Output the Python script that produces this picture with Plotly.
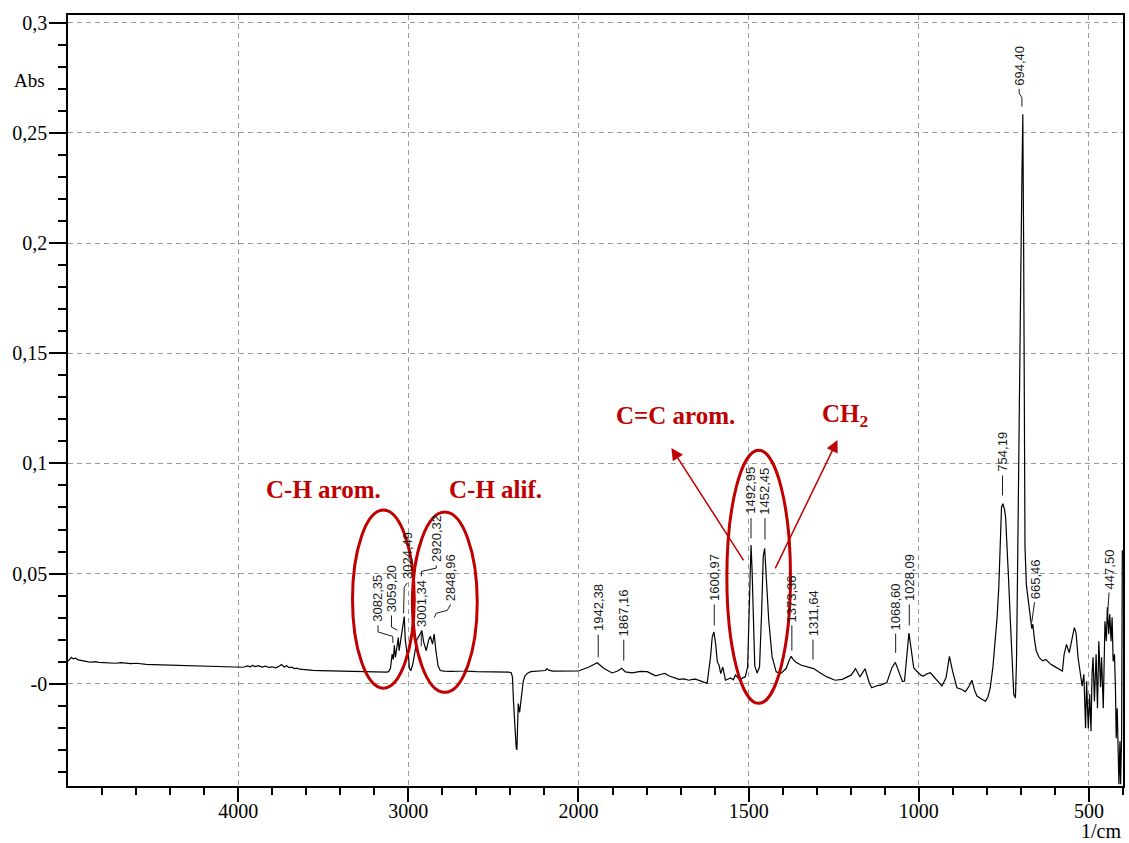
import plotly.graph_objects as go

# ---------------- data ----------------
wavenumber = [
    5000, 4990, 4980, 4970, 4955, 4940, 4920, 4900, 4880, 4860,
    4840, 4820, 4800, 4760, 4720, 4690, 4660, 4630, 4600, 4570,
    4540, 4500, 4460, 4420, 4380, 4340, 4300, 4260, 4220, 4180,
    4140, 4100, 4060, 4020, 4000, 3970, 3945, 3930, 3915, 3900,
    3880, 3860, 3840, 3820, 3800, 3780, 3760, 3745, 3730, 3715,
    3700, 3685, 3670, 3655, 3640, 3620, 3600, 3560, 3520, 3480,
    3440, 3400, 3360, 3320, 3280, 3240, 3200, 3160, 3130, 3115,
    3105, 3095, 3088, 3082, 3076, 3068, 3059, 3054, 3046, 3038,
    3030, 3024, 3018, 3008, 3001, 2994, 2985, 2975, 2962, 2950,
    2935, 2920, 2910, 2895, 2880, 2870, 2858, 2848, 2838, 2825,
    2812, 2790, 2750, 2700, 2670, 2662, 2655, 2600, 2550, 2500,
    2450, 2410, 2395, 2388, 2382, 2376, 2370, 2366, 2362, 2358,
    2354, 2350, 2346, 2340, 2333, 2325, 2315, 2300, 2280, 2250,
    2220, 2195, 2185, 2175, 2150, 2100, 2050, 2000, 1969, 1945,
    1925, 1901, 1885, 1873, 1862, 1842, 1818, 1798, 1785, 1773,
    1760, 1746, 1735, 1725, 1715, 1705, 1690, 1676, 1665, 1656,
    1640, 1630, 1622, 1612, 1607, 1602, 1597, 1592, 1587, 1582,
    1576, 1568, 1560, 1553, 1545, 1539, 1530, 1524, 1516, 1510,
    1503, 1498, 1495, 1493, 1490, 1487, 1482, 1475, 1468, 1462,
    1457, 1453, 1449, 1441, 1431, 1419, 1406, 1390, 1380, 1375,
    1370, 1362, 1345, 1324, 1309, 1295, 1270, 1246, 1225, 1199,
    1186, 1173, 1158, 1145, 1138, 1126, 1110, 1094, 1079, 1069,
    1060, 1048, 1042, 1035, 1029, 1023, 1015, 1008, 1001, 993,
    986, 976, 966, 953, 942, 932, 920, 910, 901, 888,
    875, 863, 852, 844, 836, 829, 815, 804, 797, 790,
    782, 775, 770, 765, 760, 757, 753, 748, 745, 741,
    736, 732, 728, 724, 721, 716, 713, 711, 708, 706,
    703, 700, 697, 694.4, 692, 690, 688, 684, 678, 672,
    668, 665, 660, 655, 646, 636, 627, 612, 603, 588,
    578, 573, 566, 558, 543, 538, 532, 525, 520, 515,
    510, 507, 502, 498, 494, 491, 488, 484, 479, 475,
    471, 466, 463, 458, 453, 449, 446, 442, 439, 435,
    432, 429, 425, 422, 420, 417, 415, 412, 409, 407,
    404, 402,
]
absorbance = [
    0.0103, 0.0112, 0.0120, 0.0113, 0.0116, 0.0108, 0.0104, 0.0101, 0.0099, 0.0098,
    0.0100, 0.0097, 0.0096, 0.0095, 0.0093, 0.0096, 0.0094, 0.0091, 0.0093, 0.0090,
    0.0088, 0.0087, 0.0086, 0.0085, 0.0083, 0.0082, 0.0083, 0.0081, 0.0080, 0.0079,
    0.0078, 0.0077, 0.0077, 0.0076, 0.0074, 0.0075, 0.0081, 0.0077, 0.0083, 0.0078,
    0.0082, 0.0076, 0.0080, 0.0074, 0.0077, 0.0072, 0.0079, 0.0087, 0.0076, 0.0082,
    0.0073, 0.0075, 0.0069, 0.0071, 0.0066, 0.0064, 0.0062, 0.0061, 0.0060, 0.0059,
    0.0058, 0.0057, 0.0056, 0.0056, 0.0055, 0.0054, 0.0054, 0.0053, 0.0053, 0.0055,
    0.0070, 0.0135, 0.0110, 0.0175, 0.0120, 0.0160, 0.0210, 0.0150, 0.0190, 0.0230,
    0.0270, 0.0305, 0.0200, 0.0140, 0.0150, 0.0070, 0.0060, 0.0085, 0.0140, 0.0200,
    0.0220, 0.0240, 0.0190, 0.0150, 0.0200, 0.0215, 0.0180, 0.0225, 0.0150, 0.0080,
    0.0060, 0.0057, 0.0056, 0.0056, 0.0058, 0.0068, 0.0057, 0.0055, 0.0055, 0.0056,
    0.0055, 0.0053, 0.0050, 0.0030, -0.0080, -0.0180, -0.0220, -0.0290, -0.0300, -0.0200,
    -0.0090, -0.0110, -0.0130, -0.0090, -0.0030, 0.0010, 0.0035, 0.0048, 0.0055, 0.0057,
    0.0058, 0.0060, 0.0068, 0.0062, 0.0057, 0.0057, 0.0057, 0.0058, 0.0076, 0.0095,
    0.0069, 0.0049, 0.0058, 0.0070, 0.0054, 0.0049, 0.0056, 0.0055, 0.0045, 0.0036,
    0.0042, 0.0047, 0.0036, 0.0030, 0.0025, 0.0020, 0.0022, 0.0016, 0.0020, 0.0021,
    0.0012, 0.0008, 0.0002, 0.0122, 0.0212, 0.0235, 0.0182, 0.0099, 0.0084, 0.0046,
    0.0076, 0.0016, 0.0022, 0.0026, 0.0018, 0.0039, 0.0025, 0.0019, 0.0028, 0.0031,
    0.0076, 0.0420, 0.0600, 0.0630, 0.0520, 0.0300, 0.0080, 0.0049, 0.0076, 0.0320,
    0.0580, 0.0615, 0.0500, 0.0288, 0.0122, 0.0054, 0.0046, 0.0069, 0.0110, 0.0125,
    0.0112, 0.0099, 0.0084, 0.0074, 0.0069, 0.0054, 0.0031, 0.0016, 0.0020, 0.0039,
    0.0069, 0.0031, 0.0068, 0.0001, -0.0018, -0.0010, -0.0005, 0.0005, 0.0073, 0.0097,
    0.0058, 0.0010, 0.0012, 0.0118, 0.0230, 0.0164, 0.0073, 0.0060, 0.0050, 0.0038,
    0.0035, 0.0045, 0.0050, 0.0027, 0.0008, -0.0010, 0.0027, 0.0124, 0.0058, -0.0018,
    -0.0025, -0.0036, -0.0010, 0.0016, -0.0030, -0.0056, -0.0070, -0.0079, -0.0060, -0.0018,
    0.0080, 0.0194, 0.0300, 0.0437, 0.0700, 0.0800, 0.0817, 0.0790, 0.0756, 0.0650,
    0.0468, 0.0320, 0.0194, 0.0060, -0.0049, -0.0064, 0.0100, 0.0346, 0.0700, 0.0954,
    0.1400, 0.1900, 0.2300, 0.2585, 0.2000, 0.1100, 0.0620, 0.0450, 0.0360, 0.0300,
    0.0250, 0.0270, 0.0200, 0.0150, 0.0118, 0.0104, 0.0110, 0.0088, 0.0080, 0.0066,
    0.0058, 0.0134, 0.0179, 0.0141, 0.0255, 0.0232, 0.0118, 0.0043, -0.0011, 0.0043,
    -0.0202, 0.0011, -0.0202, -0.0048, -0.0216, 0.0043, 0.0120, -0.0079, 0.0134, -0.0111,
    0.0193, -0.0016, 0.0120, -0.0111, 0.0284, 0.0193, 0.0347, 0.0225, 0.0316, 0.0193,
    0.0302, 0.0102, 0.0134, -0.0034, -0.0247, -0.0111, -0.0229, -0.0456, -0.0261, -0.0456,
    -0.0229, 0.0606,
]

peak_wavenumbers = [3082.35, 3059.20, 3024.49, 3001.34, 2920.32, 2848.96, 1942.38,
                    1867.16, 1600.97, 1492.95, 1452.45, 1373.36, 1311.64, 1068.60,
                    1028.09, 754.19, 694.40, 665.46, 447.50]
peak_labels = ["3082,35", "3059,20", "3024,49", "3001,34", "2920,32", "2848,96",
               "1942,38", "1867,16", "1600,97", "1492,95", "1452,45", "1373,36",
               "1311,64", "1068,60", "1028,09", "754,19", "694,40", "665,46", "447,50"]

band_names = ["C-H arom.", "C-H alif.", "C=C arom.", "CH<sub>2</sub>"]

x_tick_values = [4000, 3000, 2000, 1500, 1000, 500]
x_tick_labels = ["4000", "3000", "2000", "1500", "1000", "500"]
x_minor_values = [4800, 4600, 4400, 4200, 3800, 3600, 3400, 3200, 2800, 2600, 2400, 2200,
                  1900, 1800, 1700, 1600, 1400, 1300, 1200, 1100, 900, 800, 700, 600, 400]
y_tick_values = [0.3, 0.25, 0.2, 0.15, 0.1, 0.05, 0.0]
y_tick_labels = ["0,3", "0,25", "0,2", "0,15", "0,1", "0,05", "-0"]
y_minor_values = [-0.04, -0.03, -0.02, -0.01, 0.01, 0.02, 0.03, 0.04, 0.06, 0.07, 0.08, 0.09,
                  0.11, 0.12, 0.13, 0.14, 0.16, 0.17, 0.18, 0.19, 0.21, 0.22, 0.23, 0.24,
                  0.26, 0.27, 0.28, 0.29]


# ---------------- scale: FTIR axis compressed by 2 above 2000 1/cm ----------------
def to_axis(w):
    return (5000.0 - w) / 2.0 if w >= 2000 else 1500.0 + (2000.0 - w)


X_LEFT, X_RIGHT = 5000, 400
Y_MIN, Y_MAX = -0.0464, 0.3035

RED = "#c00000"
INK = "#1a1a1a"

fig = go.Figure()
fig.add_trace(go.Scatter(
    x=[to_axis(w) for w in wavenumber], y=absorbance, mode="lines",
    line=dict(color="black", width=1.2), hoverinfo="skip", showlegend=False))

# ---------------- peak labels with leader lines ----------------
label_layout = {
    "3082,35": (3178, 0.0275, [(3178, 0.0265), (3178, 0.0235), (3092, 0.0215), (3090, 0.0185)]),
    "3059,20": (3099, 0.0320, [(3099, 0.0310), (3099, 0.0257), (3064, 0.0243)]),
    "3024,49": (3006, 0.0470, [(3006, 0.0458), (3024, 0.0438), (3028, 0.0320)]),
    "3001,34": (2924, 0.0252, [(2924, 0.0242), (2924, 0.0170)]),
    "2920,32": (2836, 0.0547, [(2836, 0.0537), (2836, 0.0525), (2923, 0.0510), (2923, 0.0488)]),
    "2848,96": (2752, 0.0370, [(2752, 0.0360), (2771, 0.0333), (2836, 0.0320), (2848, 0.0300)]),
    "1942,38": (1942, 0.0234, [(1942, 0.0222), (1942, 0.0120)]),
    "1867,16": (1867, 0.0211, [(1867, 0.0200), (1867, 0.0105)]),
    "1600,97": (1601, 0.0370, [(1601, 0.0360), (1601, 0.0265)]),
    "1492,95": (1493, 0.0765, [(1493, 0.0752), (1493, 0.0660)]),
    "1452,45": (1452, 0.0765, [(1452, 0.0752), (1452, 0.0655)]),
    "1373,36": (1373, 0.0275, [(1373, 0.0265), (1373, 0.0150)]),
    "1311,64": (1311, 0.0211, [(1311, 0.0200), (1311, 0.0110)]),
    "1068,60": (1068, 0.0238, [(1068, 0.0228), (1068, 0.0140)]),
    "1028,09": (1028, 0.0370, [(1028, 0.0360), (1028, 0.0265)]),
    "754,19": (754, 0.0956, [(754, 0.0945), (754, 0.0855)]),
    "694,40": (705, 0.2710, [(705, 0.2700), (705, 0.2680), (697, 0.2660), (697, 0.2620)]),
    "665,46": (658, 0.0380, [(660, 0.0370), (668, 0.0280)]),
    "447,50": (441, 0.0424, [(441, 0.0414), (445, 0.0320)]),
}

annotations = []
shapes = []
for w_peak, lab in zip(peak_wavenumbers, peak_labels):
    tw, tb, leader = label_layout[lab]
    annotations.append(dict(
        x=to_axis(tw), y=tb, xref="x", yref="y", text=lab, textangle=-90,
        showarrow=False, xanchor="center", yanchor="bottom", borderpad=0,
        font=dict(family="Liberation Sans", size=13, color=INK)))
    for (w0, a0), (w1, a1) in zip(leader[:-1], leader[1:]):
        shapes.append(dict(type="line", xref="x", yref="y",
                           x0=to_axis(w0), y0=a0, x1=to_axis(w1), y1=a1,
                           line=dict(color=INK, width=1)))

# ---------------- red band annotations ----------------
ellipses = [(3328, 2965, -0.0020, 0.0788),
            (2976, 2595, -0.0039, 0.0779),
            (1564, 1377, -0.0089, 0.1060)]
for w0, w1, a0, a1 in ellipses:
    shapes.append(dict(type="circle", xref="x", yref="y",
                       x0=to_axis(w0), x1=to_axis(w1), y0=a0, y1=a1,
                       line=dict(color=RED, width=3)))

band_text_pos = [(3496, 0.0883), (2487, 0.0883), (1714, 0.1217), (1218, 0.1219)]
for name, (w, a) in zip(band_names, band_text_pos):
    annotations.append(dict(
        x=to_axis(w), y=a, xref="x", yref="y", text="<b>" + name + "</b>",
        showarrow=False, xanchor="center", yanchor="middle",
        font=dict(family="Liberation Serif", size=25, color=RED)))

arrows = [((1727, 0.1070), (1512, 0.0553)),
          ((1239, 0.1106), (1424, 0.0517))]
for (hw, ha), (tw, ta) in arrows:
    annotations.append(dict(
        x=to_axis(hw), y=ha, ax=to_axis(tw), ay=ta, xref="x", yref="y",
        axref="x", ayref="y", text="", showarrow=True, arrowhead=2,
        arrowsize=1.6, arrowwidth=1.5, arrowcolor=RED, standoff=0))

# ---------------- axis titles ----------------
annotations.append(dict(x=0, xref="paper", xanchor="right", xshift=-21,
                        y=0.274, yref="y", yanchor="middle", text="Abs", showarrow=False,
                        font=dict(family="Liberation Serif", size=19, color="black")))
annotations.append(dict(x=1, xref="paper", xanchor="right", xshift=-1,
                        y=0, yref="paper", yanchor="bottom", yshift=-57, text="1/cm",
                        showarrow=False, borderpad=0,
                        font=dict(family="Liberation Serif", size=20, color="black")))

tick_font = dict(family="Liberation Serif", size=20, color="black")

fig.update_layout(
    width=1129, height=843,
    margin=dict(l=68, r=4, t=15, b=57),
    paper_bgcolor="white", plot_bgcolor="white",
    showlegend=False,
    annotations=annotations, shapes=shapes,
    xaxis=dict(
        range=[to_axis(X_LEFT), to_axis(X_RIGHT)],
        tickmode="array", tickvals=[to_axis(v) for v in x_tick_values], ticktext=x_tick_labels,
        ticks="outside", ticklen=14, tickwidth=1.5, tickcolor="black",
        ticklabelstandoff=-8,
        showline=True, linecolor="black", linewidth=1.5, mirror=True,
        showgrid=True, gridcolor="#9a9a9a", gridwidth=1, griddash="5px,4px",
        zeroline=False, tickfont=tick_font,
        minor=dict(tickmode="array", tickvals=[to_axis(v) for v in x_minor_values],
                   ticks="outside", ticklen=7, tickwidth=1.5, tickcolor="black", showgrid=False),
    ),
    yaxis=dict(
        range=[Y_MIN, Y_MAX],
        tickmode="array", tickvals=y_tick_values, ticktext=y_tick_labels,
        ticks="outside", ticklen=17, tickwidth=1.5, tickcolor="black",
        ticklabelstandoff=-2,
        showline=True, linecolor="black", linewidth=1.5, mirror=True,
        showgrid=True, gridcolor="#9a9a9a", gridwidth=1, griddash="5px,4px",
        zeroline=False, tickfont=tick_font,
        minor=dict(tickmode="array", tickvals=y_minor_values,
                   ticks="outside", ticklen=8, tickwidth=1.5, tickcolor="black", showgrid=False),
    ),
)

fig.write_html("out.html")
